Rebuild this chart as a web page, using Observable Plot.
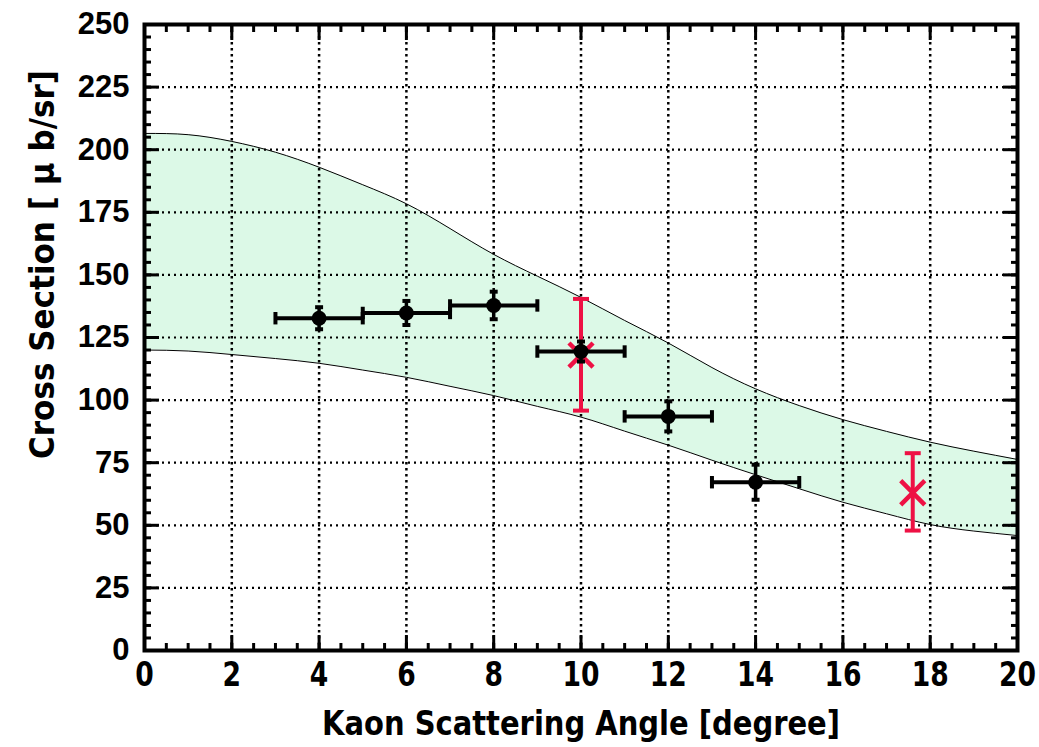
<!DOCTYPE html>
<html>
<head>
<meta charset="utf-8">
<script src="https://cdn.jsdelivr.net/npm/d3@7"></script>
<script src="https://cdn.jsdelivr.net/npm/@observablehq/plot@0.6"></script>
<style>
  html, body { margin: 0; padding: 0; background: #fff; }
  #chart svg { display: block; }
</style>
</head>
<body>
<div id="chart"></div>
<script>
// Theory band (upper / lower edge) vs. kaon scattering angle
const bandAngle = [0, 1, 2, 3, 4, 5, 6, 7, 8, 9, 10, 11, 12, 13, 14, 15, 16, 17, 18, 19, 20];
const bandUpper = [206.5, 206, 203.3, 199, 193, 186, 178.4, 168.5, 158.2, 149.5, 141, 131.8, 122.8, 113, 104.5, 97.8, 92.2, 87.5, 83.2, 79.6, 76.3];
const bandLower = [120, 119.6, 118.2, 116.6, 114.7, 112, 109.1, 105.5, 101.8, 97.5, 93.2, 87.6, 82, 76, 70.2, 64.6, 59.2, 54.6, 50.3, 47.7, 45.9];

// Measured cross sections (black points, angular bin and statistical error)
const angle = [4, 6, 8, 10, 12, 14];
const angleLo = [3, 5, 7, 9, 11, 13];
const angleHi = [5, 7, 9, 11, 13, 15];
const sigma = [132.7, 134.8, 137.8, 119.4, 93.5, 67.2];
const sigmaErr = [4.4, 4.8, 5.5, 4.0, 6.0, 7.0];

// Other measurements (red crosses)
const redAngle = [10, 17.6];
const redSigma = [118, 63];
const redLow = [95.8, 47.9];
const redHigh = [140.4, 78.8];

// Axis ticks and labels
const xMajor = [0, 2, 4, 6, 8, 10, 12, 14, 16, 18, 20];
const yMajor = [0, 25, 50, 75, 100, 125, 150, 175, 200, 225, 250];
const xMinor = d3.range(0, 20.001, 0.5);
const yMinor = d3.range(0, 250.001, 5);
const xLabel = "Kaon Scattering Angle [degree]";
const yLabel = "Cross Section [ μ b/sr]";

const band = bandAngle.map((a, i) => ({a, hi: bandUpper[i], lo: bandLower[i]}));
const pts = angle.map((a, i) => ({a, s: sigma[i], e: sigmaErr[i], lo: angleLo[i], hi: angleHi[i]}));
const red = redAngle.map((a, i) => ({a, s: redSigma[i], lo: redLow[i], hi: redHigh[i]}));

// bar-shaped symbols for error-bar caps
const capV = {draw(ctx, size) { const h = Math.sqrt(size) / 2; ctx.moveTo(0, -h); ctx.lineTo(0, h); }};
const capH = {draw(ctx, size) { const h = Math.sqrt(size) / 2; ctx.moveTo(-h, 0); ctx.lineTo(h, 0); }};

const condensed = "'DejaVu Sans Condensed', 'DejaVu Sans', sans-serif";
const sans = "'Liberation Sans', Arial, sans-serif";
const RED = "#ee1144";
const GREEN = "#dcf9e7";

const plot = Plot.plot({
  width: 1039,
  height: 747,
  marginLeft: 144,
  marginRight: 22,
  marginTop: 24,
  marginBottom: 97,
  x: {domain: [0, 20]},
  y: {domain: [0, 250]},
  marks: [
    // theory band
    Plot.areaY(band, {x: "a", y1: "lo", y2: "hi", fill: GREEN, curve: "natural"}),
    Plot.line(band, {x: "a", y: "hi", stroke: "black", strokeWidth: 1, curve: "natural"}),
    Plot.line(band, {x: "a", y: "lo", stroke: "black", strokeWidth: 1, curve: "natural"}),

    // dotted grid
    Plot.gridX({ticks: xMajor.slice(1, -1), stroke: "black", strokeOpacity: 1, strokeWidth: 2.5, strokeDasharray: "2.5,3.5"}),
    Plot.gridY({ticks: yMajor.slice(1, -1), stroke: "black", strokeOpacity: 1, strokeWidth: 2.2, strokeDasharray: "2,4"}),

    // red measurements
    Plot.ruleX(red, {x: "a", y1: "lo", y2: "hi", stroke: RED, strokeWidth: 4}),
    Plot.dot(red, {x: "a", y: "lo", symbol: capH, r: 9, stroke: RED, strokeWidth: 4}),
    Plot.dot(red, {x: "a", y: "hi", symbol: capH, r: 9, stroke: RED, strokeWidth: 4}),
    Plot.dot(red, {x: "a", y: "s", symbol: "times", r: 11, stroke: RED, strokeWidth: 4.5}),

    // black measurements
    Plot.ruleY(pts, {y: "s", x1: "lo", x2: "hi", stroke: "black", strokeWidth: 4}),
    Plot.dot(pts, {x: "lo", y: "s", symbol: capV, r: 7, stroke: "black", strokeWidth: 4}),
    Plot.dot(pts, {x: "hi", y: "s", symbol: capV, r: 7, stroke: "black", strokeWidth: 4}),
    Plot.ruleX(pts, {x: "a", y1: d => d.s - d.e, y2: d => d.s + d.e, stroke: "black", strokeWidth: 3.5}),
    Plot.dot(pts, {x: "a", y: d => d.s - d.e, symbol: capH, r: 4.5, stroke: "black", strokeWidth: 4}),
    Plot.dot(pts, {x: "a", y: d => d.s + d.e, symbol: capH, r: 4.5, stroke: "black", strokeWidth: 4}),
    Plot.dot(pts, {x: "a", y: "s", r: 7.5, fill: "black"}),

    // inward ticks on all four sides
    Plot.axisX({anchor: "bottom", ticks: xMinor, tickSize: -7, fill: "none", strokeWidth: 3, label: null}),
    Plot.axisX({anchor: "bottom", ticks: xMajor, tickSize: -15, fill: "none", strokeWidth: 3, label: null}),
    Plot.axisX({anchor: "top", ticks: xMinor, tickSize: -7, fill: "none", strokeWidth: 3, label: null}),
    Plot.axisX({anchor: "top", ticks: xMajor, tickSize: -15, fill: "none", strokeWidth: 3, label: null}),
    Plot.axisY({anchor: "left", ticks: yMinor, tickSize: -7, fill: "none", strokeWidth: 3, label: null}),
    Plot.axisY({anchor: "left", ticks: yMajor, tickSize: -15, fill: "none", strokeWidth: 3, label: null}),
    Plot.axisY({anchor: "right", ticks: yMinor, tickSize: -7, fill: "none", strokeWidth: 3, label: null}),
    Plot.axisY({anchor: "right", ticks: yMajor, tickSize: -15, fill: "none", strokeWidth: 3, label: null}),

    // tick labels
    Plot.axisX({anchor: "bottom", ticks: xMajor, tickSize: 0, tickPadding: 11, tickFormat: d3.format("d"),
      fontSize: 34, fontFamily: condensed, fontWeight: "bold", fill: "black", label: null}),
    Plot.axisY({anchor: "left", ticks: yMajor, tickSize: 0, tickPadding: 15, tickFormat: d3.format("d"),
      fontSize: 31, fontFamily: sans, fontWeight: "bold", fill: "black", label: null}),

    // axis titles
    Plot.text([xLabel], {frameAnchor: "bottom", dy: 84, text: d => d, fontSize: 34, fontFamily: condensed,
      fontWeight: "bold", fill: "black"}),
    Plot.text([yLabel], {frameAnchor: "left", textAnchor: "middle", dx: -101, dy: -73, rotate: -90, text: d => d,
      fontSize: 34, fontFamily: condensed, fontWeight: "bold", fill: "black"}),

    Plot.frame({stroke: "black", strokeWidth: 4})
  ]
});
document.getElementById("chart").append(plot);

// narrow the lettering of the angle tick labels and the axis titles
const narrow = (el, len) => {
  el.setAttribute("textLength", len);
  el.setAttribute("lengthAdjust", "spacingAndGlyphs");
};
plot.querySelectorAll('g[aria-label="x-axis tick label"] text').forEach(t => {
  narrow(t, t.textContent.trim().length * 18.5);
});
plot.querySelectorAll("text").forEach(t => {
  if (t.textContent === xLabel) narrow(t, 518);
  if (t.textContent === yLabel) narrow(t, 389);
});
</script>
</body>
</html>
